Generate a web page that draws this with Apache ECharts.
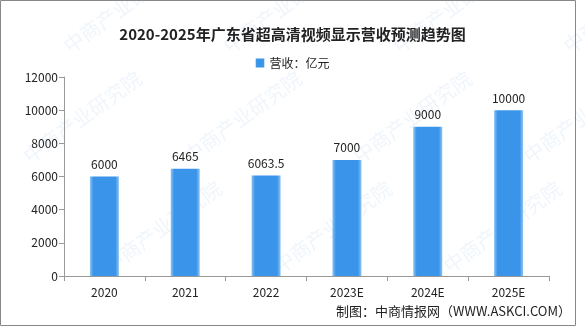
<!DOCTYPE html>
<html><head><meta charset="utf-8">
<script src="https://cdn.jsdelivr.net/npm/echarts@6/dist/echarts.min.js"></script>
<style>html,body{margin:0;padding:0;background:#fff}#c{width:585px;height:327px}</style>
</head><body><div id="c"></div>
<script>
const titleText = '2020-2025年广东省超高清视频显示营收预测趋势图';
const legendName = '营收：亿元';
const categories = ['2020','2021','2022','2023E','2024E','2025E'];
const revenue = [6000, 6465, 6063.5, 7000, 9000, 10000];
const yTicks = [0, 2000, 4000, 6000, 8000, 10000, 12000];
const footer = '制图：中商情报网（WWW.ASKCI.COM）';
const wmText = '中商产业研究院';

const font = '"Noto Sans CJK SC", "Noto Sans", sans-serif';
const wmPos = [[60,40],[220,40],[390,40],[560,40],[20,150],[180,150],[350,150],[520,150],[100,260],[270,260],[440,260]];
const chart = echarts.init(document.getElementById('c'));
chart.setOption({
  animation: false,
  textStyle: {fontFamily: font},
  title: {text: titleText, left: 'center', top: 22,
    textStyle: {fontSize: 15, fontWeight: 'bold', color: '#222', fontFamily: font}},
  legend: {data: [legendName], top: 52, left: 'center', icon: 'rect', itemWidth: 9, itemHeight: 9, itemGap: 4,
    textStyle: {fontSize: 12, color: '#222'}},
  grid: {left: 64, right: 36, top: 77, bottom: 51},
  xAxis: {type: 'category', data: categories,
    axisLine: {lineStyle: {color: '#999'}},
    axisTick: {show: true, lineStyle: {color: '#999'}},
    axisLabel: {fontSize: 12, color: '#222', margin: 10}},
  yAxis: {type: 'value', min: yTicks[0], max: yTicks[yTicks.length-1], interval: 2000,
    splitLine: {show: false},
    axisLine: {show: true, lineStyle: {color: '#999'}},
    axisTick: {show: true, lineStyle: {color: '#999'}},
    axisLabel: {fontSize: 12, color: '#222', margin: 6, formatter: v => String(v)}},
  series: [{name: legendName, type: 'bar', data: revenue, barWidth: 29,
    itemStyle: {color: {type: 'linear', x: 0, y: 0, x2: 1, y2: 0, colorStops: [
      {offset: 0, color: '#8cc4f3'}, {offset: 0.12, color: '#3a94ea'},
      {offset: 0.88, color: '#3a94ea'}, {offset: 1, color: '#8cc4f3'}]}},
    label: {show: true, position: 'top', fontSize: 12, color: '#222', distance: 6}}],
  graphic: [
    ...wmPos.map(p => ({type: 'text', x: p[0], y: p[1], rotation: Math.PI/5, silent: true, z: -10,
      style: {text: wmText, fill: 'rgba(120,170,220,0.12)', font: '20px ' + font}})),
    {type: 'rect', shape: {x: 0.5, y: 0.5, width: 575, height: 325}, style: {fill: 'none', stroke: '#888', lineWidth: 1}, silent: true},
    {type: 'text', right: 14, top: 305, style: {text: footer, fill: '#222', font: '13px ' + font}}
  ]
});
</script></body></html>
